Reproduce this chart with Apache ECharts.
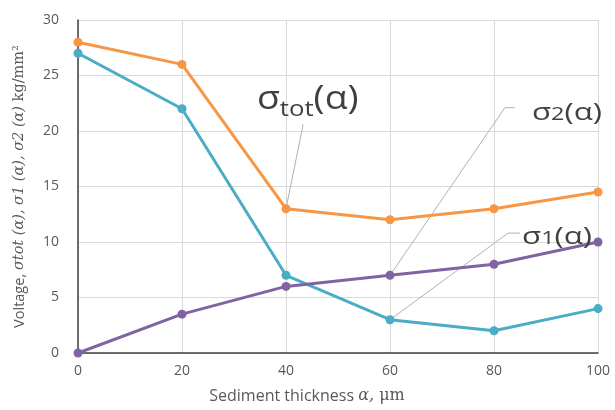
<!DOCTYPE html>
<html><head><meta charset="utf-8">
<script src="https://cdn.jsdelivr.net/npm/echarts@6/dist/echarts.min.js"></script>
<style>html,body{margin:0;padding:0;background:#fff}#c{width:615px;height:410px}</style>
</head><body><div id="c"></div>
<script>
const thickness = [0, 20, 40, 60, 80, 100];
const sigmaTot = [28, 26, 13, 12, 13, 14.5];
const sigmaBlue = [27, 22, 7, 3, 2, 4];
const sigmaPurple = [0, 3.5, 6, 7, 8, 10];
const xTicks = [0, 20, 40, 60, 80, 100];
const yTicks = [0, 5, 10, 15, 20, 25, 30];

const pairs = arr => thickness.map((x, i) => [x, arr[i]]);
const chart = echarts.init(document.getElementById('c'), null, {renderer: 'canvas'});
const sans = '"Open Sans", "Noto Sans", sans-serif';
const serif = '"DejaVu Serif", "Liberation Serif", serif';
function mk(name, data, color) {
  return {name, type: 'line', data: pairs(data), symbol: 'circle', symbolSize: 9,
    lineStyle: {color, width: 3}, itemStyle: {color}, z: 3, animation: false};
}
chart.setOption({
  animation: false,
  grid: {left: 78, right: 17, top: 20, bottom: 57, containLabel: false},
  xAxis: {type: 'value', min: 0, max: 100, interval: 20,
    axisLine: {lineStyle: {color: '#404040', width: 1.5}},
    axisTick: {show: false},
    splitLine: {show: true, lineStyle: {color: '#d9d9d9', width: 1}},
    axisLabel: {color: '#595959', fontFamily: sans, fontSize: 14, margin: 11,
      formatter: v => xTicks.includes(v) ? String(v) : ''},
    name: '{a|Sediment thickness }{b|α,}{c| μm}', nameLocation: 'middle', nameGap: 35,
    nameTextStyle: {padding: [0, 62, 0, 0], rich: {
      a: {fontFamily: sans, fontSize: 16, color: '#595959'},
      b: {fontFamily: serif, fontStyle: 'italic', fontSize: 16, color: '#595959'},
      c: {fontFamily: serif, fontSize: 16, color: '#595959'}}}
  },
  yAxis: {type: 'value', min: 0, max: 30, interval: 5,
    axisLine: {show: true, lineStyle: {color: '#404040', width: 1.5}},
    axisTick: {show: false},
    splitLine: {show: true, lineStyle: {color: '#d9d9d9', width: 1}},
    axisLabel: {color: '#595959', fontFamily: sans, fontSize: 14, margin: 19,
      formatter: v => yTicks.includes(v) ? String(v) : ''},
    name: '{a|Voltage, }{b|σtot (α), σ1 (α), σ2 (α)}{c| kg/mm²}', nameLocation: 'middle', nameGap: 51,
    nameTextStyle: {rich: {
      a: {fontFamily: sans, fontSize: 14.5, color: '#595959'},
      b: {fontFamily: serif, fontStyle: 'italic', fontSize: 14.5, color: '#595959'},
      c: {fontFamily: serif, fontSize: 14.5, color: '#595959'}}}
  },
  series: [
    mk('σtot', sigmaTot, '#f79646'),
    mk('σ1', sigmaBlue, '#4bacc6'),
    mk('σ2', sigmaPurple, '#8064a2')
  ]
});

function px(x, y) { return chart.convertToPixel({gridIndex: 0}, [x, y]); }
const labelColor = '#404040';
const pTot = px(thickness[2], sigmaTot[2]);
const pS2 = px(thickness[3], sigmaPurple[3]);
const pS1 = px(thickness[3], sigmaBlue[3]);
const aTot = px(43.3, 20.6);
const lTot = px(34.4, 22.8);
const aS2 = px(82.1, 22.1), bS2 = px(84.0, 22.1);
const lS2 = px(87.3, 21.6);
const aS1 = px(82.7, 10.8), bS1 = px(85.0, 10.8);
const lS1 = px(85.4, 10.45);
const leader = {stroke: '#b0b0b0', lineWidth: 1, fill: null};
chart.setOption({graphic: [
  {type: 'polyline', shape: {points: [aTot, pTot]}, style: leader, z: 2},
  {type: 'polyline', shape: {points: [bS2, aS2, pS2]}, style: leader, z: 2},
  {type: 'polyline', shape: {points: [bS1, aS1, pS1]}, style: leader, z: 2},
  {type: 'text', x: lTot[0], y: lTot[1], scaleX: 1.17, z: 10, style: {
    text: '{s|σ}{t|tot}{s|(α)}', verticalAlign: 'middle', align: 'left',
    rich: {s: {fontFamily: sans, fontSize: 32, fill: labelColor},
           t: {fontFamily: sans, fontSize: 22, fill: labelColor, padding: [20, 0, 0, 0]}}}},
  {type: 'text', x: lS2[0], y: lS2[1], scaleX: 1.3, z: 10, style: {
    text: '{s|σ}{t|2}{s|(α)}', verticalAlign: 'middle', align: 'left',
    rich: {s: {fontFamily: sans, fontSize: 24, fill: labelColor},
           t: {fontFamily: sans, fontSize: 18, fill: labelColor, padding: [4, 0, 0, 0]}}}},
  {type: 'text', x: lS1[0], y: lS1[1], scaleX: 1.3, z: 10, style: {
    text: '{s|σ}{t|1}{s|(α)}', verticalAlign: 'middle', align: 'left',
    rich: {s: {fontFamily: sans, fontSize: 24, fill: labelColor},
           t: {fontFamily: sans, fontSize: 18, fill: labelColor, padding: [4, 0, 0, 0]}}}}
]});
</script></body></html>
